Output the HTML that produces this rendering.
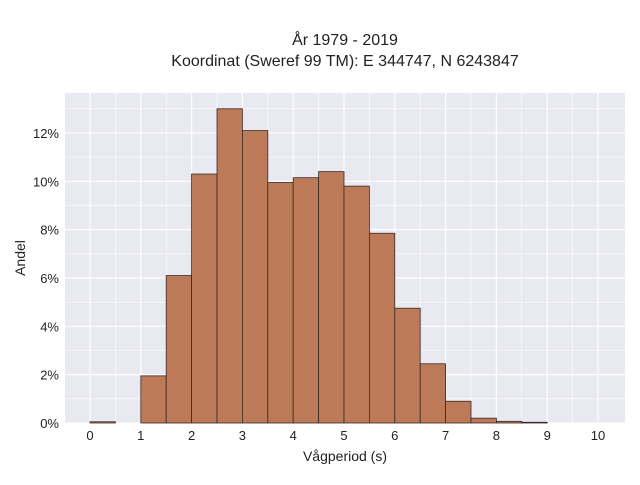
<!DOCTYPE html>
<html><head><meta charset="utf-8"><style>
body{margin:0;background:#fff;}
svg{font-family:"Liberation Sans",sans-serif;}
</style></head><body>
<svg id="chart" width="640" height="480" xmlns="http://www.w3.org/2000/svg">
<text x="345" y="45" text-anchor="middle" font-size="16" fill="#222">År 1979 - 2019</text>
<text x="345" y="66" text-anchor="middle" font-size="16" fill="#222">Koordinat (Sweref 99 TM): E 344747, N 6243847</text>
<rect x="65" y="93" width="560" height="330" fill="#e8e9f1"/>
<g id="grid"></g><g id="bars"></g><g id="ticks"></g>
<text x="345" y="461" text-anchor="middle" font-size="14" fill="#222">Vågperiod (s)</text>
<text x="25" y="258" text-anchor="middle" font-size="14" fill="#222" transform="rotate(-90 25 258)">Andel</text>
</svg>
<script>
const binStarts=[0,0.5,1,1.5,2,2.5,3,3.5,4,4.5,5,5.5,6,6.5,7,7.5,8,8.5,9,9.5];
const shares=[0.05,0,1.95,6.1,10.3,13.0,12.1,9.95,10.15,10.4,9.8,7.85,4.75,2.45,0.9,0.2,0.07,0.03,0,0];
const xTicks=[0,1,2,3,4,5,6,7,8,9,10];
const yTicks=[0,2,4,6,8,10,12];
const binWidth=0.5;
const NS="http://www.w3.org/2000/svg";
const x=v=>90+v*50.8;
const y=v=>423-v*24.17;
function mk(t,a,p){const e=document.createElementNS(NS,t);for(const k in a)e.setAttribute(k,a[k]);p.appendChild(e);return e;}
const grid=document.getElementById('grid'),bars=document.getElementById('bars'),ticks=document.getElementById('ticks');
for(let v=0;v<=10;v+=0.5){const l=mk('line',{x1:x(v),x2:x(v),y1:93,y2:423,stroke:'#fff','stroke-width':Number.isInteger(v)?1.2:0.6},grid);

}
for(let v=0;v<=13;v+=1){const l=mk('line',{x1:65,x2:625,y1:y(v),y2:y(v),stroke:'#fff','stroke-width':v%2==0?1.2:0.6},grid);

}
binStarts.forEach((s,i)=>{if(shares[i]<=0)return;const r=mk('rect',{x:x(s),y:y(shares[i]),width:x(s+binWidth)-x(s),height:y(0)-y(shares[i]),fill:'#bc7a58',stroke:'#3a2a22','stroke-width':0.8},bars);

});
xTicks.forEach(v=>{const t=mk('text',{x:x(v),y:440,'text-anchor':'middle','font-size':13,fill:'#222'},ticks);t.textContent=v;

});
yTicks.forEach(v=>{const t=mk('text',{x:59,y:y(v)+5,'text-anchor':'end','font-size':13,fill:'#222'},ticks);t.textContent=v+'%';

});
</script>
</body></html>
